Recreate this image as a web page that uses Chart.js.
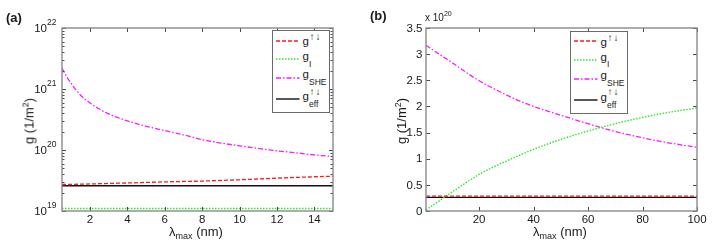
<!DOCTYPE html>
<html>
<head>
<meta charset="utf-8">
<script src="https://cdn.jsdelivr.net/npm/chart.js@4/dist/chart.umd.min.js"></script>
<style>
  html, body { margin:0; padding:0; background:#fff; }
  body { width:713px; height:245px; position:relative; overflow:hidden;
         font-family:'Liberation Sans', Arial, Helvetica, sans-serif; color:#1a1a1a; }
  canvas { position:absolute; top:0; }
  .t { position:absolute; white-space:nowrap; line-height:1; }
  .yt { transform: translate(-50%,-50%) rotate(-90deg); font-size:13px; }
  .xt { transform: translate(-50%,-50%); font-size:13px; }
  .xt sub { font-size:9px; vertical-align:-3px; line-height:0; }
  .yt sup { font-size:9px; vertical-align:5px; line-height:0; }
  .pl { font-weight:bold; font-size:13px; transform: translateY(-50%); }
  .leg { position:absolute; border:1px solid #6a6a6a; background:#fff; box-sizing:border-box; }
  .lg { position:absolute; white-space:nowrap; font-size:11.5px; line-height:11px; }
  .ls { position:absolute; white-space:nowrap; font-size:8.5px; line-height:8px; }
  .la { position:absolute; white-space:nowrap; font-size:10px; line-height:10px; letter-spacing:1px; }
  svg.smp { position:absolute; }
</style>
</head>
<body>
<canvas id="ca" width="356" height="245" style="left:0"></canvas>
<canvas id="cb" width="357" height="245" style="left:356px"></canvas>

<div class="t pl" style="left:6px;top:17px">(a)</div>
<div class="t pl" style="left:370px;top:15px">(b)</div>

<div class="t yt" style="left:29px;top:121px">g (1/m<sup>2</sup>)</div>
<div class="t yt" style="left:401px;top:121px">g (1/m<sup>2</sup>)</div>
<div class="t xt" style="left:196px;top:231px">λ<sub>max</sub> (nm)</div>
<div class="t xt" style="left:560px;top:231px">λ<sub>max</sub> (nm)</div>
<div class="t" style="left:425px;top:13px;font-size:10px">x 10<span style="font-size:7px;vertical-align:5px;line-height:0">20</span></div>

<div class="leg" style="left:272px;top:30px;width:58px;height:83px"></div>
<div class="leg" style="left:570px;top:31px;width:58px;height:83px"></div>
<div id="legends"></div>

<script>
// ---------- Panel (a) data: lambda_max (nm) vs g (1/m^2), log axis ----------
const lambdaA   = [0.5, 0.75, 1, 1.5, 2, 2.5, 3, 4, 5, 6, 7, 8, 9, 10, 11, 12, 13, 14, 15];
const gSheA     = [2.2e21, 1.6e21, 1.22e21, 7.9e20, 5.9e20, 4.7e20, 3.9e20, 3.0e20, 2.45e20, 2.08e20,
                   1.77e20, 1.48e20, 1.3e20, 1.17e20, 1.06e20, 9.7e19, 9.0e19, 8.3e19, 7.8e19];
const gUpDownA  = [2.72e19, 2.72e19, 2.73e19, 2.75e19, 2.78e19, 2.8e19, 2.83e19, 2.88e19, 2.94e19, 3.0e19,
                   3.05e19, 3.1e19, 3.17e19, 3.25e19, 3.35e19, 3.45e19, 3.55e19, 3.64e19, 3.72e19];
const lambdaEndsA = [0.5, 15];
const gIA       = [1.1e19, 1.1e19];
const gEffA     = [2.6e19, 2.6e19];
const xTicksA   = [2, 4, 6, 8, 10, 12, 14];
const yTicksA   = [1e19, 1e20, 1e21, 1e22];
const yExpA     = ['19', '20', '21', '22'];

// ---------- Panel (b) data: values in units of 1e20 (1/m^2) ----------
const lambdaB   = [0.5, 5, 10, 15, 20, 25, 30, 35, 40, 50, 60, 70, 80, 90, 100];
const gSheB     = [3.17, 3.01, 2.84, 2.66, 2.49, 2.35, 2.22, 2.1, 2.0, 1.83, 1.67, 1.52, 1.40, 1.30, 1.22];
const gIB       = [0.02, 0.18, 0.36, 0.535, 0.70, 0.835, 0.955, 1.07, 1.18, 1.37, 1.53, 1.67, 1.79, 1.89, 1.97];
const lambdaEndsB = [0.5, 100];
const gUpDownB  = [0.285, 0.285];
const gEffB     = [0.26, 0.26];
const xTicksB   = [20, 40, 60, 80, 100];
const yTicksB   = [0, 0.5, 1, 1.5, 2, 2.5, 3, 3.5];

const FONT = "'Liberation Sans', Arial, Helvetica, sans-serif";
const pts = (xs, ys) => xs.map((x, i) => ({x, y: ys[i]}));

const styles = {
  updown: {borderColor:'#ff1a1a', borderDash:[4,2], borderWidth:1.3},
  gi:     {borderColor:'#2ee62e', borderDash:[1.5,1.5], borderWidth:1.4},
  she:    {borderColor:'#ff1aff', borderDash:[5,2,1.5,2], borderWidth:1.3},
  eff:    {borderColor:'#111111', borderDash:[], borderWidth:1.4}
};
function ds(label, data, st) {
  return Object.assign({label, data, pointRadius:0, fill:false, cubicInterpolationMode:'monotone'}, st);
}

// ---------- legends (HTML text, positioned) ----------
function buildLegend(dx, dy) {
  const items = [
    {c:40.7, col:'#ff1a1a', dash:'4 2', w:1.3, g:36.4, sup:32.3},
    {c:59.3, col:'#2ee62e', dash:'1.5 1.5', w:1.4, g:51.2, sub:'I', subTop:59.6},
    {c:78.3, col:'#ff1aff', dash:'5 2 1.5 2', w:1.3, g:69.4, sub:'SHE', subTop:78.4},
    {c:99.0, col:'#111', dash:'', w:1.4, g:91.2, sup:86.5, sub:'eff', subTop:100.2}
  ];
  let h = '';
  items.forEach(it => {
    const cy = it.c + dy;
    h += `<svg class="smp" width="24" height="4" style="left:${276+dx}px;top:${cy-2}px"><line x1="0" y1="2" x2="23.5" y2="2" stroke="${it.col}" stroke-width="${it.w}" ${it.dash ? `stroke-dasharray="${it.dash}"` : ''}/></svg>`;
    h += `<span class="lg" style="left:${302.5+dx}px;top:${it.g+dy}px">g</span>`;
    if (it.sup !== undefined) h += `<span class="la" style="left:${309.5+dx}px;top:${it.sup+dy}px">↑↓</span>`;
    if (it.sub) h += `<span class="ls" style="left:${309+dx}px;top:${it.subTop+dy}px">${it.sub}</span>`;
  });
  return h;
}
document.getElementById('legends').innerHTML = buildLegend(0, 0) + buildLegend(298, 0.5);

// ---------- Matlab style box, inward ticks, tick labels ----------
const boxPlugin = {
  id: 'matlabBox',
  afterDatasetsDraw(chart, args, opts) {
    const {ctx, chartArea:a, scales} = chart;
    const x = scales.x, y = scales.y;
    ctx.save();
    ctx.strokeStyle = '#4a4a4a';
    ctx.lineWidth = 1;
    const L = 4;
    x.ticks.forEach(t => {
      const px = Math.round(x.getPixelForValue(t.value)) + 0.5;
      ctx.beginPath();
      ctx.moveTo(px, a.bottom); ctx.lineTo(px, a.bottom - L);
      ctx.moveTo(px, a.top); ctx.lineTo(px, a.top + L);
      ctx.stroke();
    });
    y.ticks.forEach(t => {
      const py = Math.round(y.getPixelForValue(t.value)) + 0.5;
      ctx.beginPath();
      ctx.moveTo(a.left, py); ctx.lineTo(a.left + L, py);
      ctx.moveTo(a.right, py); ctx.lineTo(a.right - L, py);
      ctx.stroke();
    });
    if (opts.logMinor) {
      for (let d = 19; d < 22; d++) {
        for (let m = 2; m <= 9; m++) {
          const py = Math.round(y.getPixelForValue(m * Math.pow(10, d))) + 0.5;
          ctx.beginPath();
          ctx.moveTo(a.left, py); ctx.lineTo(a.left + 2.5, py);
          ctx.moveTo(a.right, py); ctx.lineTo(a.right - 2.5, py);
          ctx.stroke();
        }
      }
    }
    ctx.strokeStyle = '#8a8a8a';
    ctx.lineWidth = 1.4;
    ctx.strokeRect(a.left, a.top, a.right - a.left, a.bottom - a.top);

    ctx.fillStyle = '#1a1a1a';
    ctx.textBaseline = 'middle';
    ctx.font = '11.5px ' + FONT;
    ctx.textAlign = 'center';
    x.ticks.forEach(t => {
      ctx.fillText(String(t.value), x.getPixelForValue(t.value), a.bottom + 8.5);
    });
    if (opts.logLabels) {
      y.ticks.forEach((t, i) => {
        const py = y.getPixelForValue(t.value);
        ctx.font = '11.5px ' + FONT;
        ctx.textAlign = 'right';
        ctx.fillText('10', a.left - 15, py + 1);
        ctx.font = '8.5px ' + FONT;
        ctx.textAlign = 'left';
        ctx.fillText(opts.logLabels[i], a.left - 15, py - 5.5);
      });
    } else {
      ctx.font = '11.5px ' + FONT;
      ctx.textAlign = 'right';
      y.ticks.forEach(t => {
        ctx.fillText(String(t.value), a.left - 3.5, y.getPixelForValue(t.value) + 0.5);
      });
    }
    ctx.restore();
  }
};

new Chart(document.getElementById('ca'), {
  type: 'line',
  data: {
    datasets: [
      ds('g↑↓', pts(lambdaA, gUpDownA), styles.updown),
      ds('gI', pts(lambdaEndsA, gIA), styles.gi),
      ds('gSHE', pts(lambdaA, gSheA), styles.she),
      ds('g↑↓eff', pts(lambdaEndsA, gEffA), styles.eff)
    ]
  },
  options: {
    responsive: false, animation: false, devicePixelRatio: 1,
    layout: {padding: {left: 0, top: 28, right: 23, bottom: 0}},
    plugins: {legend: {display: false}, tooltip: {enabled: false},
              matlabBox: {logMinor: true, logLabels: yExpA}},
    scales: {
      x: {
        type: 'linear', min: 0.5, max: 15,
        grid: {display: false}, border: {display: false},
        afterBuildTicks: s => { s.ticks = xTicksA.map(v => ({value: v})); },
        afterFit: s => { s.height = 34; },
        ticks: {display: false}
      },
      y: {
        type: 'logarithmic', min: 1e19, max: 1e22,
        grid: {display: false}, border: {display: false},
        afterBuildTicks: s => { s.ticks = yTicksA.map(v => ({value: v})); },
        afterFit: s => { s.width = 62; },
        ticks: {display: false}
      }
    }
  },
  plugins: [boxPlugin]
});

new Chart(document.getElementById('cb'), {
  type: 'line',
  data: {
    datasets: [
      ds('g↑↓', pts(lambdaEndsB, gUpDownB), styles.updown),
      ds('gI', pts(lambdaB, gIB), styles.gi),
      ds('gSHE', pts(lambdaB, gSheB), styles.she),
      ds('g↑↓eff', pts(lambdaEndsB, gEffB), styles.eff)
    ]
  },
  options: {
    responsive: false, animation: false, devicePixelRatio: 1,
    layout: {padding: {left: 0, top: 28, right: 16, bottom: 0}},
    plugins: {legend: {display: false}, tooltip: {enabled: false}, matlabBox: {}},
    scales: {
      x: {
        type: 'linear', min: 0.5, max: 100,
        grid: {display: false}, border: {display: false},
        afterBuildTicks: s => { s.ticks = xTicksB.map(v => ({value: v})); },
        afterFit: s => { s.height = 34; },
        ticks: {display: false}
      },
      y: {
        type: 'linear', min: 0, max: 3.5,
        grid: {display: false}, border: {display: false},
        afterBuildTicks: s => { s.ticks = yTicksB.map(v => ({value: v})); },
        afterFit: s => { s.width = 70; },
        ticks: {display: false}
      }
    }
  },
  plugins: [boxPlugin]
});
</script>
</body>
</html>
